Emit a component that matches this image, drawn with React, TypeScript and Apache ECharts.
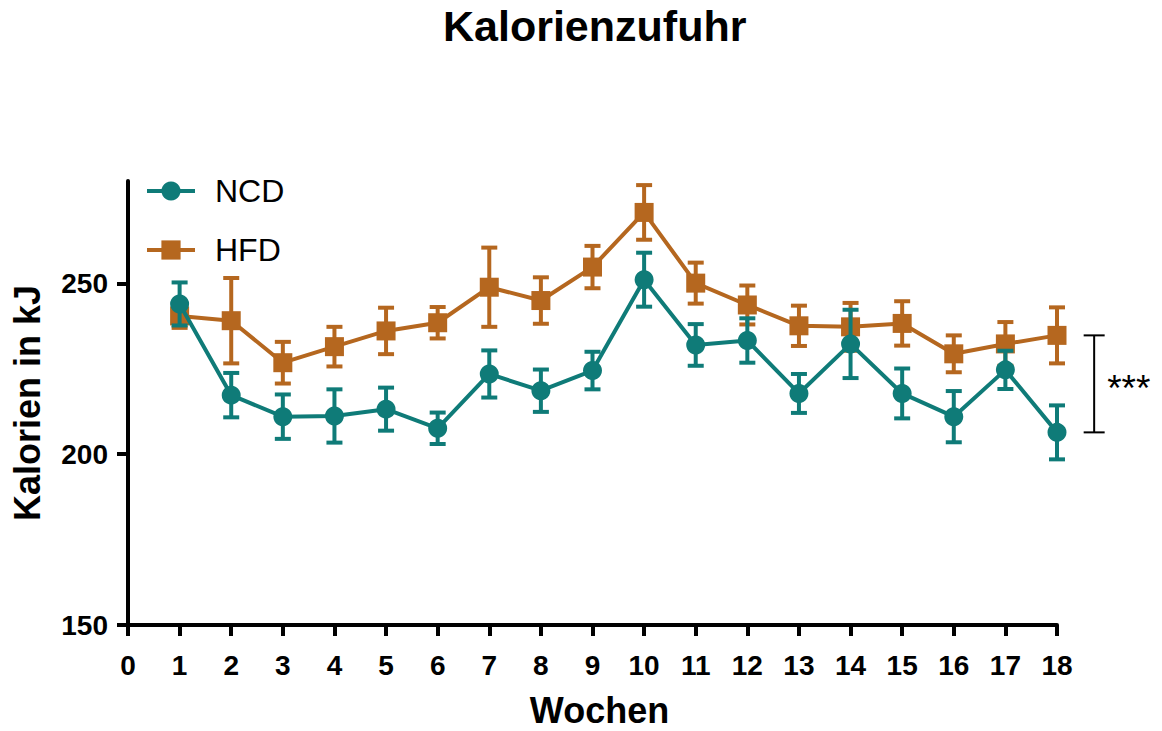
import React, { useEffect, useRef } from "react";
import * as echarts from "echarts";

const weeks = [1, 2, 3, 4, 5, 6, 7, 8, 9, 10, 11, 12, 13, 14, 15, 16, 17, 18];
const ncdMean = [244.0, 217.3, 211.0, 211.2, 213.2, 207.6, 223.5, 218.6, 224.5, 251.1, 232.0, 233.3, 217.8, 232.3, 217.8, 211.0, 224.7, 206.4];
const ncdSem = [6.3, 6.5, 6.5, 7.8, 6.3, 4.6, 6.9, 6.2, 5.5, 7.9, 6.1, 6.5, 5.7, 10.0, 7.3, 7.5, 5.6, 7.9];
const hfdMean = [240.5, 239.1, 226.8, 231.5, 236.1, 238.5, 248.9, 245.0, 254.8, 270.8, 250.1, 243.7, 237.6, 237.3, 238.3, 229.4, 232.3, 234.8];
const hfdSem = [3.5, 12.5, 6.1, 5.8, 6.8, 4.6, 11.6, 6.8, 6.2, 8.0, 6.0, 5.7, 5.9, 7.0, 6.5, 5.4, 6.4, 8.2];
const yTicks = [150, 200, 250];
const seriesNames = ["NCD", "HFD"];
const significance = "***";
const bracketX = 18.72;

const NCD_COLOR = "#0F7B78";
const HFD_COLOR = "#B5671F";
const FONT = "'Liberation Sans', Arial, sans-serif";

function errRender(color: string) {
  return (params: any, api: any) => {
    const x = api.value(0);
    const lo = api.value(1);
    const hi = api.value(2);
    const top = api.coord([x, hi]);
    const bot = api.coord([x, lo]);
    const hw = 8;
    const st = { stroke: color, lineWidth: 4 };
    return {
      type: "group",
      children: [
        { type: "line", shape: { x1: top[0], y1: top[1], x2: bot[0], y2: bot[1] }, style: st },
        { type: "line", shape: { x1: top[0] - hw, y1: top[1], x2: top[0] + hw, y2: top[1] }, style: st },
        { type: "line", shape: { x1: bot[0] - hw, y1: bot[1], x2: bot[0] + hw, y2: bot[1] }, style: st },
      ],
    };
  };
}

export default function App() {
  const ref = useRef<HTMLDivElement>(null);
  useEffect(() => {
    if (!ref.current) return;
    const chart = echarts.init(ref.current, null, { renderer: "svg" });
    const ncdData = weeks.map((w, i) => [w, ncdMean[i]]);
    const hfdData = weeks.map((w, i) => [w, hfdMean[i]]);
    const ncdErr = weeks.map((w, i) => [w, ncdMean[i] - ncdSem[i], ncdMean[i] + ncdSem[i]]);
    const hfdErr = weeks.map((w, i) => [w, hfdMean[i] - hfdSem[i], hfdMean[i] + hfdSem[i]]);
    const last = weeks.length - 1;
    chart.setOption({
      animation: false,
      backgroundColor: "#ffffff",
      textStyle: { fontFamily: FONT },
      title: {
        text: "Kalorienzufuhr",
        left: 443,
        top: 4,
        padding: 0,
        textStyle: { fontFamily: FONT, fontSize: 43, fontWeight: "bold", color: "#000" },
      },
      legend: {
        data: seriesNames,
        orient: "vertical",
        left: 140,
        top: 170,
        itemWidth: 48,
        itemHeight: 24,
        itemGap: 27,
        lineStyle: { width: 4 },
        textStyle: { fontFamily: FONT, fontSize: 32, color: "#000", padding: [0, 0, 0, 15] },
        selectedMode: false,
      },
      grid: { left: 128, right: 105, top: 181, bottom: 106, containLabel: false, outerBoundsMode: "none" },
      xAxis: {
        type: "value",
        min: 0,
        max: 18,
        interval: 1,
        name: "Wochen",
        nameLocation: "middle",
        nameGap: 67,
        nameTextStyle: { fontFamily: FONT, fontSize: 36, fontWeight: "bold", color: "#000", padding: [0, 0, 0, 14] },
        axisLine: { lineStyle: { color: "#000", width: 4 } },
        axisTick: { length: 11, lineStyle: { color: "#000", width: 4 } },
        axisLabel: { fontFamily: FONT, fontSize: 28, fontWeight: "bold", color: "#000", margin: 26 },
        splitLine: { show: false },
      },
      yAxis: {
        type: "value",
        min: 150,
        max: 280,
        interval: 50,
        name: "Kalorien in kJ",
        nameLocation: "middle",
        nameRotate: 90,
        nameGap: 83,
        nameTextStyle: { fontFamily: FONT, fontSize: 36, fontWeight: "bold", color: "#000" },
        axisLine: { show: true, lineStyle: { color: "#000", width: 4 } },
        axisTick: { show: true, length: 11, customValues: yTicks, lineStyle: { color: "#000", width: 4 } },
        axisLabel: { customValues: yTicks, fontFamily: FONT, fontSize: 28, fontWeight: "bold", color: "#000", margin: 20 },
        splitLine: { show: false },
      },
      series: [
        {
          name: "HFD",
          type: "line",
          data: hfdData,
          symbol: "rect",
          symbolSize: 19,
          z: 2,
          lineStyle: { color: HFD_COLOR, width: 4 },
          itemStyle: { color: HFD_COLOR },
        },
        {
          name: "HFD err",
          type: "custom",
          data: hfdErr,
          encode: { x: 0, y: [1, 2] },
          renderItem: errRender(HFD_COLOR),
          z: 2,
        },
        {
          name: "NCD",
          type: "line",
          data: ncdData,
          symbol: "circle",
          symbolSize: 19,
          z: 3,
          lineStyle: { color: NCD_COLOR, width: 4 },
          itemStyle: { color: NCD_COLOR },
        },
        {
          name: "NCD err",
          type: "custom",
          data: ncdErr,
          encode: { x: 0, y: [1, 2] },
          renderItem: errRender(NCD_COLOR),
          z: 3,
        },
        {
          name: "sig",
          type: "custom",
          clip: false,
          data: [[bracketX, ncdMean[last], hfdMean[last]]],
          encode: { x: 0, y: [1, 2] },
          renderItem: (params: any, api: any) => {
            const x = api.value(0);
            const top = api.coord([x, api.value(2)]);
            const bot = api.coord([x, api.value(1)]);
            const hw = 10.5;
            const st = { stroke: "#000", lineWidth: 2 };
            return {
              type: "group",
              children: [
                { type: "line", shape: { x1: top[0], y1: top[1], x2: bot[0], y2: bot[1] }, style: st },
                { type: "line", shape: { x1: top[0] - hw, y1: top[1], x2: top[0] + hw, y2: top[1] }, style: st },
                { type: "line", shape: { x1: bot[0] - hw, y1: bot[1], x2: bot[0] + hw, y2: bot[1] }, style: st },
                {
                  type: "text",
                  style: {
                    x: top[0] + 13,
                    y: (top[1] + bot[1]) / 2 + 5,
                    text: significance,
                    fontFamily: FONT,
                    fontSize: 37,
                    fill: "#000",
                    textAlign: "left",
                    textVerticalAlign: "middle",
                  },
                },
              ],
            };
          },
          z: 4,
        },
      ],
    });
    return () => chart.dispose();
  }, []);
  return (
    <div
      ref={ref}
      style={{ position: "absolute", left: 0, top: 0, width: 1162, height: 731 }}
    />
  );
}
